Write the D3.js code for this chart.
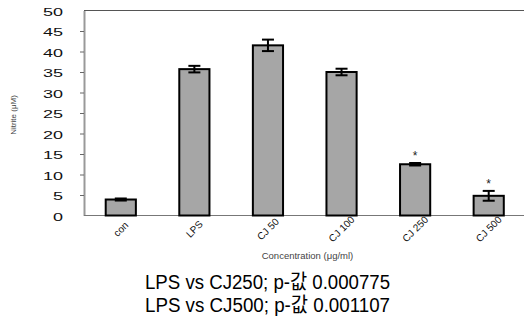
<!DOCTYPE html>
<html>
<head>
<meta charset="utf-8">
<script src="https://cdn.jsdelivr.net/npm/d3@7"></script>
<style>
  body { margin: 0; background: #fff; }
  svg { display: block; }
</style>
</head>
<body>
<div id="chart"></div>
<script>
// data
var categories = ['con', 'LPS', 'CJ 50', 'CJ 100', 'CJ 250', 'CJ 500'];
var nitrite    = [3.9, 35.7, 41.5, 35.0, 12.5, 4.8];
var errors     = [0.25, 0.8, 1.4, 0.8, 0.3, 1.2];
var significant = ['CJ 250', 'CJ 500'];
var yTicks     = [0, 5, 10, 15, 20, 25, 30, 35, 40, 45, 50];
var notes      = ['LPS vs CJ250; p-값 0.000775', 'LPS vs CJ500; p-값 0.001107'];

var width = 524, height = 323;
var margin = {top: 10.5, left: 84, bottom: 215.5, right: 525.5};

var svg = d3.select('#chart').append('svg')
  .attr('width', width)
  .attr('height', height);

var xScale = d3.scaleBand()
  .domain(categories)
  .range([margin.left, margin.right])
  .paddingInner(0.59)
  .paddingOuter(0.295);

var yScale = d3.scaleLinear()
  .domain([0, 50])
  .range([margin.bottom, margin.top]);

// top border of plot area
svg.append('line')
  .attr('x1', margin.left).attr('x2', width + 2)
  .attr('y1', yScale(50)).attr('y2', yScale(50))
  .attr('stroke', '#555').attr('stroke-width', 1);

// y axis
var yAxis = d3.axisLeft(yScale).tickValues(yTicks).tickSize(4).tickSizeOuter(0);
var gy = svg.append('g')
  .attr('transform', 'translate(' + margin.left + ',0)')
  .call(yAxis);
gy.select('.domain').attr('stroke', '#999').attr('stroke-width', 2);
gy.selectAll('.tick line').attr('stroke', '#666')
  .style('display', function(d) { return (d === 0 || d === 50) ? 'none' : null; });
gy.selectAll('.tick text')
  .attr('font-family', 'Liberation Sans, Arial, sans-serif')
  .attr('font-size', 10)
  .attr('fill', '#111')
  .attr('x', -11.7)
  .attr('dy', '0.45em')
  .attr('transform', 'scale(1.8,1)');

// x baseline
svg.append('line')
  .attr('x1', margin.left).attr('x2', width + 2)
  .attr('y1', yScale(0)).attr('y2', yScale(0))
  .attr('stroke', '#777').attr('stroke-width', 1);

// bars
svg.selectAll('.bar')
  .data(categories)
  .enter().append('rect')
  .attr('class', 'bar')
  .attr('x', function(d) { return xScale(d); })
  .attr('width', xScale.bandwidth())
  .attr('y', function(d, i) { return yScale(nitrite[i]); })
  .attr('height', function(d, i) { return yScale(0) - yScale(nitrite[i]); })
  .attr('fill', '#a6a6a6')
  .attr('stroke', '#000')
  .attr('stroke-width', 2);

// error bars
var err = svg.selectAll('.err')
  .data(categories)
  .enter().append('g')
  .attr('class', 'err')
  .attr('transform', function(d) { return 'translate(' + (xScale(d) + xScale.bandwidth() / 2) + ',0)'; });
err.append('line')
  .attr('y1', function(d, i) { return yScale(nitrite[i] + errors[i]); })
  .attr('y2', function(d, i) { return yScale(nitrite[i] - errors[i]); })
  .attr('stroke', '#000').attr('stroke-width', 2);
err.selectAll('.cap')
  .data(function(d, i) { return [nitrite[i] + errors[i], nitrite[i] - errors[i]]; })
  .enter().append('line')
  .attr('x1', -6).attr('x2', 6)
  .attr('y1', function(v) { return yScale(v); })
  .attr('y2', function(v) { return yScale(v); })
  .attr('stroke', '#000').attr('stroke-width', 2);

// significance stars
svg.selectAll('.star')
  .data(significant)
  .enter().append('text')
  .attr('x', function(d) { return xScale(d) + xScale.bandwidth() / 2; })
  .attr('y', function(d) {
    var i = categories.indexOf(d);
    return yScale(nitrite[i] + errors[i]) - 3;
  })
  .attr('text-anchor', 'middle')
  .attr('font-family', 'Liberation Sans, Arial, sans-serif')
  .attr('font-size', 12)
  .attr('fill', '#222')
  .text('*');

// category labels, rotated
svg.selectAll('.xlabel')
  .data(categories)
  .enter().append('text')
  .attr('transform', function(d) {
    return 'translate(' + (xScale(d) + xScale.bandwidth() / 2 + 2.5) + ',231.5) rotate(-45)';
  })
  .attr('text-anchor', 'middle')
  .attr('font-family', 'Liberation Sans, Arial, sans-serif')
  .attr('font-size', 10)
  .attr('fill', '#111')
  .text(function(d) { return d; });

// axis titles
svg.append('text')
  .attr('x', 307.5).attr('y', 259)
  .attr('text-anchor', 'middle')
  .attr('font-family', 'Liberation Sans, Arial, sans-serif')
  .attr('font-size', 9.5)
  .attr('fill', '#444')
  .text('Concentration (μg/ml)');

svg.append('text')
  .attr('transform', 'translate(16,115) rotate(-90)')
  .attr('text-anchor', 'middle')
  .attr('font-family', 'Liberation Sans, Arial, sans-serif')
  .attr('font-size', 8)
  .attr('fill', '#444')
  .text('Nitrite (μM)');

// p-value notes
svg.selectAll('.note')
  .data(notes)
  .enter().append('text')
  .attr('x', 145)
  .attr('y', function(d, i) { return 288.5 + i * 23.5; })
  .attr('textLength', 245)
  .attr('lengthAdjust', 'spacingAndGlyphs')
  .attr('font-family', 'Liberation Sans Narrow, Liberation Sans, Noto Sans CJK KR, sans-serif')
  .attr('font-size', 20)
  .attr('fill', '#000')
  .text(function(d) { return d; });
</script>
</body>
</html>
